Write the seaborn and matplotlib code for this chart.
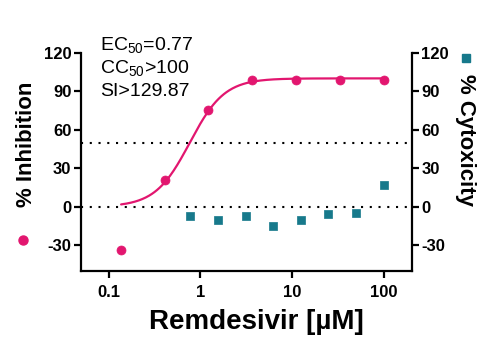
import numpy as np
import pandas as pd
import matplotlib
matplotlib.use("Agg")
import matplotlib.pyplot as plt
from matplotlib.lines import Line2D
import seaborn as sns

# Antiviral activity (% inhibition) at 3-fold dilutions
inh_conc = [0.137, 0.41, 1.23, 3.7, 11.1, 33.3, 100]
inh_value = [-33.5, 21, 75, 99, 99, 99, 99]

# Cytotoxicity (%) at 2-fold dilutions
cyt_conc = [0.78, 1.56, 3.125, 6.25, 12.5, 25, 50, 100]
cyt_value = [-7, -10, -7, -15, -10, -6, -5, 17]

# Four-parameter logistic fit of the inhibition data
fit_bottom, fit_top, fit_ec50, fit_hill = 0.0, 100.0, 0.77, 2.3

x_ticks = [0.1, 1, 10, 100]
x_tick_labels = ["0.1", "1", "10", "100"]
y_ticks = [-30, 0, 30, 60, 90, 120]

pink = "#E2166F"
teal = "#17798B"

sns.set_theme(style="ticks")
plt.rcParams["font.family"] = ["Liberation Sans", "DejaVu Sans"]
plt.rcParams["mathtext.fontset"] = "custom"
plt.rcParams["mathtext.rm"] = "Liberation Sans"
plt.rcParams["mathtext.it"] = "Liberation Sans"
plt.rcParams["text.color"] = "black"
plt.rcParams["xtick.color"] = "black"
plt.rcParams["ytick.color"] = "black"
plt.rcParams["xtick.labelcolor"] = "black"
plt.rcParams["ytick.labelcolor"] = "black"

W, H = 498, 349
fig = plt.figure(figsize=(W / 100, H / 100), dpi=100)
ax_l, ax_r, ax_t, ax_b = 81, 411.5, 52.7, 271
ax = fig.add_axes([ax_l / W, 1 - ax_b / H, (ax_r - ax_l) / W, (ax_b - ax_t) / H])
ax2 = ax.twinx()

# Fitted curve
xs = np.logspace(np.log10(inh_conc[0]), np.log10(inh_conc[-1]), 300)
ys = fit_bottom + (fit_top - fit_bottom) / (1 + (fit_ec50 / xs) ** fit_hill)
curve = pd.DataFrame({"conc": xs, "inhibition": ys})
sns.lineplot(data=curve, x="conc", y="inhibition", ax=ax, color=pink, lw=1.6, zorder=3)

# Reference lines at 50 % and 0 %
for yref in (50, 0):
    ax.axhline(yref, color="black", lw=1.5, ls=(0, (1, 3.2)), zorder=1)

inh = pd.DataFrame({"conc": inh_conc, "value": inh_value})
cyt = pd.DataFrame({"conc": cyt_conc, "value": cyt_value})
sns.scatterplot(data=inh, x="conc", y="value", ax=ax, color=pink, marker="o",
                s=42, edgecolor=pink, linewidth=0.5, zorder=4, clip_on=False)
sns.scatterplot(data=cyt, x="conc", y="value", ax=ax2, color=teal, marker="s",
                s=38, edgecolor=teal, linewidth=0.5, zorder=4, clip_on=False)

for a in (ax, ax2):
    a.set_xscale("log")
    a.set_xlim(0.05, 202)
    a.set_ylim(-50, 120)
    a.set_yticks(y_ticks)
    a.set_yticklabels([str(v) for v in y_ticks])
    a.set_xlabel("")
    a.set_ylabel("")
    a.spines["top"].set_visible(False)
    for s in ("left", "right", "bottom"):
        a.spines[s].set_linewidth(1.6)
        a.spines[s].set_color("black")
    a.tick_params(axis="both", which="major", length=5, width=1.6, color="black",
                  labelcolor="black", labelsize=12, pad=2)
    a.tick_params(axis="x", which="minor", length=0)
    for lab in a.get_yticklabels() + a.get_xticklabels():
        lab.set_fontweight("bold")
ax.spines["right"].set_visible(False)
ax2.spines["left"].set_visible(False)
ax2.spines["bottom"].set_visible(False)

ax.set_xticks(x_ticks)
ax.set_xticklabels(x_tick_labels, fontweight="bold")
ax.tick_params(axis="x", pad=5)
ax2.set_zorder(ax.get_zorder() - 1)
ax.patch.set_visible(False)

# Axis titles
fig.text(256 / W, 1 - 322 / H, "Remdesivir [µM]", ha="center", va="center",
         fontsize=20, fontweight="bold", color="black")
fig.text(27 / W, 1 - 144 / H, "% Inhibition", ha="center", va="center",
         rotation=90, fontsize=16, fontweight="bold", color="black")
fig.text(465 / W, 1 - 140 / H, "% Cytoxicity", ha="center", va="center",
         rotation=270, fontsize=16, fontweight="bold", color="black")

# Series symbols beside the axis titles
fig.add_artist(Line2D([23 / W], [1 - 240 / H], marker="o", ms=6.5, color=pink,
                      mec=pink, transform=fig.transFigure, ls="none"))
fig.add_artist(Line2D([466 / W], [1 - 58 / H], marker="s", ms=6, color=teal,
                      mec=teal, transform=fig.transFigure, ls="none"))

# Potency summary
fs = 14
fig.text(100 / W, 1 - 45 / H, r"EC$_{50}$=0.77", ha="left", va="center", fontsize=fs)
fig.text(100 / W, 1 - 68 / H, r"CC$_{50}$>100", ha="left", va="center", fontsize=fs)
fig.text(100 / W, 1 - 91 / H, "SI>129.87", ha="left", va="center", fontsize=fs)

fig.savefig("out.png", dpi=100)
